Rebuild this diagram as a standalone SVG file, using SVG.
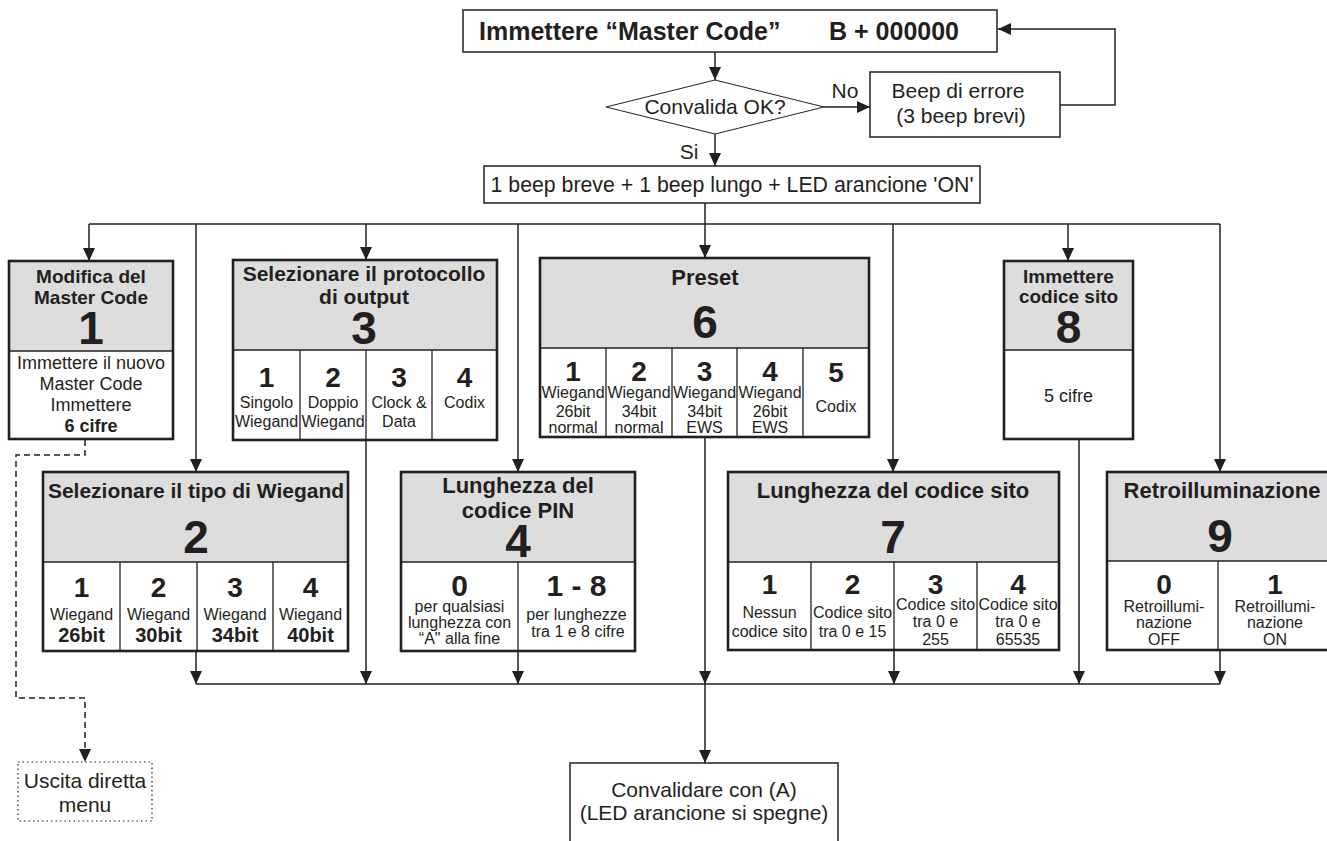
<svg xmlns="http://www.w3.org/2000/svg" width="1327" height="841" viewBox="0 0 1327 841">
  <defs>
    <marker id="arr" markerUnits="userSpaceOnUse" markerWidth="13" markerHeight="12" refX="13" refY="6" orient="auto">
      <path d="M0,0 L13,6 L0,12 Z" fill="#231f20"/>
    </marker>
    <style>
      .box { fill: #fff; stroke: #231f20; stroke-width: 1.5; }
      .sec { fill: none; stroke: #231f20; stroke-width: 2.6; }
      .hdr { fill: #dddddd; }
      .body { fill: #fff; }
      .div { stroke: #231f20; stroke-width: 1.3; }
      .ln { stroke: #231f20; stroke-width: 1.5; fill: none; }
      .dash { stroke: #231f20; stroke-width: 1.5; fill: none; stroke-dasharray: 6 4; }
      .t { font-family: "Liberation Sans", Arial, sans-serif; fill: #231f20; text-anchor: middle; }
      .b { font-weight: bold; }
      .h22 { font-size: 22px; font-weight: bold; }
      .h21 { font-size: 21px; font-weight: bold; }
      .h19 { font-size: 19px; font-weight: bold; }
      .big { font-size: 46px; font-weight: bold; }
      .dig { font-size: 28px; font-weight: bold; }
      .s16 { font-size: 16px; }
      .s18 { font-size: 18px; }
      .s21 { font-size: 21px; }
    </style>
  </defs>

  <rect width="1327" height="841" fill="#fff"/>

  <!-- connectors -->
  <g id="connectors">
    <line class="ln" x1="715" y1="52" x2="715" y2="80" marker-end="url(#arr)"/>
    <line class="ln" x1="824" y1="107" x2="870" y2="107" marker-end="url(#arr)"/>
    <polyline class="ln" points="1060,105 1115,105 1115,29 998,29" marker-end="url(#arr)"/>
    <line class="ln" x1="715" y1="134" x2="715" y2="166" marker-end="url(#arr)"/>
    <!-- distribution bus -->
    <line class="ln" x1="705" y1="203" x2="705" y2="258" marker-end="url(#arr)"/>
    <line class="ln" x1="89" y1="224" x2="1220" y2="224"/>
    <polyline class="ln" points="89,224 89,261" marker-end="url(#arr)"/>
    <polyline class="ln" points="196,224 196,472" marker-end="url(#arr)"/>
    <polyline class="ln" points="366,224 366,260" marker-end="url(#arr)"/>
    <polyline class="ln" points="518,224 518,472" marker-end="url(#arr)"/>
    <polyline class="ln" points="893,224 893,472" marker-end="url(#arr)"/>
    <polyline class="ln" points="1068,224 1068,261" marker-end="url(#arr)"/>
    <polyline class="ln" points="1220,224 1220,472" marker-end="url(#arr)"/>
    <!-- collection bus -->
    <line class="ln" x1="196" y1="684" x2="1220" y2="684"/>
    <line class="ln" x1="196" y1="651" x2="196" y2="684" marker-end="url(#arr)"/>
    <line class="ln" x1="366" y1="440" x2="366" y2="684" marker-end="url(#arr)"/>
    <line class="ln" x1="518" y1="651" x2="518" y2="684" marker-end="url(#arr)"/>
    <line class="ln" x1="705" y1="437" x2="705" y2="684" marker-end="url(#arr)"/>
    <line class="ln" x1="894" y1="650" x2="894" y2="684" marker-end="url(#arr)"/>
    <line class="ln" x1="1079" y1="439" x2="1079" y2="684" marker-end="url(#arr)"/>
    <line class="ln" x1="1220" y1="650" x2="1220" y2="684" marker-end="url(#arr)"/>
    <line class="ln" x1="705" y1="684" x2="705" y2="763" marker-end="url(#arr)"/>
    <!-- direct exit -->
    <polyline class="dash" points="85,440 85,455 16,455 16,698 85,698 85,762" marker-end="url(#arr)"/>
    <text class="t s21" x="845" y="98">No</text>
    <text class="t s21" x="689" y="159">Si</text>
  </g>

  <g id="enter-master">
    <rect class="box" x="463" y="10" width="534" height="42"/>
    <text class="t" x="479" y="40" style="font-size:25px;font-weight:bold;text-anchor:start">Immettere “Master Code”</text>
    <text class="t" x="959" y="40" style="font-size:25px;font-weight:bold;text-anchor:end">B + 000000</text>
  </g>

  <g id="check">
    <polygon points="606,107 715,80 824,107 715,134" fill="#fff" stroke="#231f20" stroke-width="1"/>
    <text class="t s21" x="715" y="114">Convalida OK?</text>
  </g>

  <g id="beep-error">
    <rect class="box" x="870" y="72" width="190" height="65"/>
    <text class="t s21" x="958" y="98">Beep di errore</text>
    <text class="t s21" x="961" y="123">(3 beep brevi)</text>
  </g>

  <g id="beep-ok">
    <rect class="box" x="484" y="166" width="496" height="37"/>
    <text class="t" x="732" y="192" style="font-size:21.3px">1 beep breve + 1 beep lungo + LED arancione 'ON'</text>
  </g>

  <g id="step1">
    <rect class="hdr" x="9" y="261" width="164" height="90"/>
    <rect class="body" x="9" y="351" width="164" height="88"/>
    <line class="div" x1="9" y1="351" x2="173" y2="351"/>
    <rect class="sec" x="9" y="261" width="164" height="178"/>
    <text class="t h19" x="91" y="283">Modifica del</text>
    <text class="t h19" x="91" y="304">Master Code</text>
    <text class="t big" x="91" y="344">1</text>
    <text class="t s18" x="91" y="369">Immettere il nuovo</text>
    <text class="t s18" x="91" y="390">Master Code</text>
    <text class="t s18" x="91" y="411">Immettere</text>
    <text class="t s18 b" x="91" y="432">6 cifre</text>
  </g>

  <g id="step3">
    <rect class="hdr" x="233" y="260" width="264" height="90"/>
    <rect class="body" x="233" y="350" width="264" height="90"/>
    <line class="div" x1="233" y1="350" x2="497" y2="350"/>
    <line class="div" x1="300" y1="350" x2="300" y2="440"/>
    <line class="div" x1="366" y1="350" x2="366" y2="440"/>
    <line class="div" x1="432" y1="350" x2="432" y2="440"/>
    <rect class="sec" x="233" y="260" width="264" height="180"/>
    <text class="t h21" x="364" y="281">Selezionare il protocollo</text>
    <text class="t h21" x="364" y="304">di output</text>
    <text class="t big" x="364" y="344">3</text>
    <text class="t dig" x="266.5" y="387">1</text>
    <text class="t dig" x="333" y="387">2</text>
    <text class="t dig" x="399" y="387">3</text>
    <text class="t dig" x="464.5" y="387">4</text>
    <text class="t s16" x="266.5" y="408">Singolo</text>
    <text class="t s16" x="266.5" y="427">Wiegand</text>
    <text class="t s16" x="333" y="408">Doppio</text>
    <text class="t s16" x="333" y="427">Wiegand</text>
    <text class="t s16" x="399" y="408">Clock &amp;</text>
    <text class="t s16" x="399" y="427">Data</text>
    <text class="t s16" x="464.5" y="408">Codix</text>
  </g>

  <g id="step6">
    <rect class="hdr" x="540" y="258" width="329" height="90"/>
    <rect class="body" x="540" y="348" width="329" height="89"/>
    <line class="div" x1="540" y1="348" x2="869" y2="348"/>
    <line class="div" x1="606" y1="348" x2="606" y2="437"/>
    <line class="div" x1="672" y1="348" x2="672" y2="437"/>
    <line class="div" x1="737" y1="348" x2="737" y2="437"/>
    <line class="div" x1="803" y1="348" x2="803" y2="437"/>
    <rect class="sec" x="540" y="258" width="329" height="179"/>
    <text class="t h22" x="705" y="285">Preset</text>
    <text class="t big" x="705" y="338">6</text>
    <text class="t dig" x="573" y="381">1</text>
    <text class="t dig" x="639" y="381">2</text>
    <text class="t dig" x="704.5" y="381">3</text>
    <text class="t dig" x="770" y="381">4</text>
    <text class="t dig" x="836" y="382">5</text>
    <text class="t s16" x="573" y="398">Wiegand</text>
    <text class="t s16" x="573" y="417">26bit</text>
    <text class="t s16" x="573" y="433">normal</text>
    <text class="t s16" x="639" y="398">Wiegand</text>
    <text class="t s16" x="639" y="417">34bit</text>
    <text class="t s16" x="639" y="433">normal</text>
    <text class="t s16" x="704.5" y="398">Wiegand</text>
    <text class="t s16" x="704.5" y="417">34bit</text>
    <text class="t s16" x="704.5" y="433">EWS</text>
    <text class="t s16" x="770" y="398">Wiegand</text>
    <text class="t s16" x="770" y="417">26bit</text>
    <text class="t s16" x="770" y="433">EWS</text>
    <text class="t s16" x="836" y="412">Codix</text>
  </g>

  <g id="step8">
    <rect class="hdr" x="1004" y="261" width="129" height="89"/>
    <rect class="body" x="1004" y="350" width="129" height="89"/>
    <line class="div" x1="1004" y1="350" x2="1133" y2="350"/>
    <rect class="sec" x="1004" y="261" width="129" height="178"/>
    <text class="t h19" x="1068.5" y="283">Immettere</text>
    <text class="t h19" x="1068.5" y="303">codice sito</text>
    <text class="t big" x="1068.5" y="343">8</text>
    <text class="t s18" x="1068.5" y="402">5 cifre</text>
  </g>

  <g id="step2">
    <rect class="hdr" x="43" y="472" width="305" height="90"/>
    <rect class="body" x="43" y="562" width="305" height="89"/>
    <line class="div" x1="43" y1="562" x2="348" y2="562"/>
    <line class="div" x1="120" y1="562" x2="120" y2="651"/>
    <line class="div" x1="197" y1="562" x2="197" y2="651"/>
    <line class="div" x1="273" y1="562" x2="273" y2="651"/>
    <rect class="sec" x="43" y="472" width="305" height="179"/>
    <text class="t h21" x="196" y="498">Selezionare il tipo di Wiegand</text>
    <text class="t big" x="196" y="553">2</text>
    <text class="t dig" x="81.5" y="597">1</text>
    <text class="t dig" x="158.5" y="597">2</text>
    <text class="t dig" x="235" y="597">3</text>
    <text class="t dig" x="310.5" y="597">4</text>
    <text class="t s16" x="81.5" y="620">Wiegand</text>
    <text class="t s16" x="158.5" y="620">Wiegand</text>
    <text class="t s16" x="235" y="620">Wiegand</text>
    <text class="t s16" x="310.5" y="620">Wiegand</text>
    <text class="t b" x="81.5" y="642" style="font-size:20px">26bit</text>
    <text class="t b" x="158.5" y="642" style="font-size:20px">30bit</text>
    <text class="t b" x="235" y="642" style="font-size:20px">34bit</text>
    <text class="t b" x="310.5" y="642" style="font-size:20px">40bit</text>
  </g>

  <g id="step4">
    <rect class="hdr" x="401" y="472" width="234" height="90"/>
    <rect class="body" x="401" y="562" width="234" height="89"/>
    <line class="div" x1="401" y1="562" x2="635" y2="562"/>
    <line class="div" x1="518" y1="562" x2="518" y2="651"/>
    <rect class="sec" x="401" y="472" width="234" height="179"/>
    <text class="t h22" x="518" y="493">Lunghezza del</text>
    <text class="t h22" x="518" y="518">codice PIN</text>
    <text class="t big" x="518" y="557">4</text>
    <text class="t" x="459.5" y="596" style="font-size:30px;font-weight:bold">0</text>
    <text class="t" x="576.5" y="596" style="font-size:30px;font-weight:bold">1 - 8</text>
    <text class="t s16" x="459.5" y="612">per qualsiasi</text>
    <text class="t s16" x="459.5" y="628">lunghezza con</text>
    <text class="t s16" x="459.5" y="644">“A" alla fine</text>
    <text class="t s16" x="576.5" y="620">per lunghezze</text>
    <text class="t s16" x="578" y="637">tra 1 e 8 cifre</text>
  </g>

  <g id="step7">
    <rect class="hdr" x="728" y="472" width="331" height="90"/>
    <rect class="body" x="728" y="562" width="331" height="88"/>
    <line class="div" x1="728" y1="562" x2="1059" y2="562"/>
    <line class="div" x1="811" y1="562" x2="811" y2="650"/>
    <line class="div" x1="894" y1="562" x2="894" y2="650"/>
    <line class="div" x1="977" y1="562" x2="977" y2="650"/>
    <rect class="sec" x="728" y="472" width="331" height="178"/>
    <text class="t h22" x="893" y="498">Lunghezza del codice sito</text>
    <text class="t big" x="893" y="553">7</text>
    <text class="t dig" x="769.5" y="594">1</text>
    <text class="t dig" x="852.5" y="594">2</text>
    <text class="t dig" x="935.5" y="594">3</text>
    <text class="t dig" x="1018" y="594">4</text>
    <text class="t s16" x="769.5" y="618">Nessun</text>
    <text class="t s16" x="769.5" y="637">codice sito</text>
    <text class="t s16" x="852.5" y="618">Codice sito</text>
    <text class="t s16" x="852.5" y="637">tra 0 e 15</text>
    <text class="t s16" x="935.5" y="610">Codice sito</text>
    <text class="t s16" x="935.5" y="627">tra 0 e</text>
    <text class="t s16" x="935.5" y="645">255</text>
    <text class="t s16" x="1018" y="610">Codice sito</text>
    <text class="t s16" x="1018" y="627">tra 0 e</text>
    <text class="t s16" x="1018" y="645">65535</text>
  </g>

  <g id="step9">
    <rect class="hdr" x="1107" y="472" width="222" height="89"/>
    <rect class="body" x="1107" y="561" width="222" height="89"/>
    <line class="div" x1="1107" y1="561" x2="1329" y2="561"/>
    <line class="div" x1="1218" y1="561" x2="1218" y2="650"/>
    <rect class="sec" x="1107" y="472" width="222" height="178"/>
    <text class="t h22" x="1222" y="498">Retroilluminazione</text>
    <text class="t big" x="1220" y="552">9</text>
    <text class="t dig" x="1164" y="594">0</text>
    <text class="t dig" x="1275" y="594">1</text>
    <text class="t s16" x="1164" y="612">Retroillumi-</text>
    <text class="t s16" x="1164" y="628">nazione</text>
    <text class="t s16" x="1164" y="645">OFF</text>
    <text class="t s16" x="1275" y="612">Retroillumi-</text>
    <text class="t s16" x="1275" y="628">nazione</text>
    <text class="t s16" x="1275" y="645">ON</text>
  </g>

  <g id="exit-menu">
    <rect x="18" y="762" width="134" height="59" fill="#fff" stroke="#231f20" stroke-width="1.2" stroke-dasharray="1.5 3"/>
    <text class="t s21" x="85" y="788">Uscita diretta</text>
    <text class="t s21" x="85" y="812">menu</text>
  </g>

  <g id="confirm">
    <rect class="box" x="570" y="763" width="268" height="90"/>
    <text class="t s21" x="704" y="797">Convalidare con (A)</text>
    <text class="t s21" x="704" y="820">(LED arancione si spegne)</text>
  </g>
</svg>
